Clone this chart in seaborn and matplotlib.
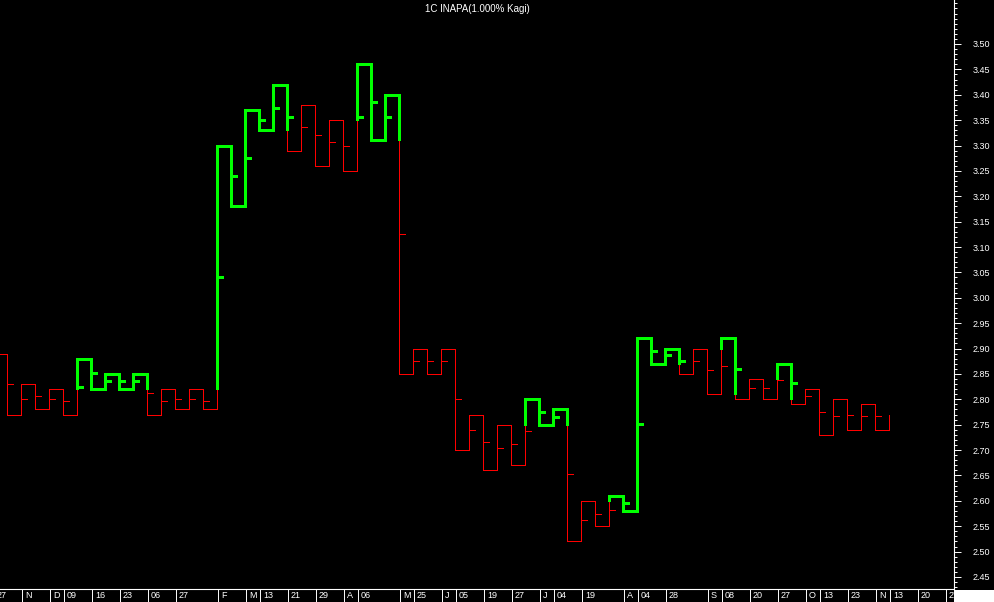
import numpy as np
import pandas as pd
import matplotlib
matplotlib.use('Agg')
import matplotlib.pyplot as plt
from matplotlib.ticker import MultipleLocator
from matplotlib.patches import Rectangle
import seaborn as sns

# Kagi chart of 1C INAPA, 1% reversal
title = '1C INAPA(1.000% Kagi)'

# level the line comes in at (column just off the left edge)
start_level = 2.89

# turning point of each column (end of its vertical line)
levels = [2.77, 2.83, 2.78, 2.82, 2.77, 2.88, 2.82, 2.85, 2.82, 2.85,
          2.77, 2.82, 2.78, 2.82, 2.78, 3.30, 3.18, 3.37, 3.33, 3.42,
          3.29, 3.38, 3.26, 3.35, 3.25, 3.46, 3.31, 3.40, 2.85, 2.90,
          2.85, 2.90, 2.70, 2.77, 2.66, 2.75, 2.67, 2.80, 2.75, 2.78,
          2.52, 2.60, 2.55, 2.61, 2.58, 2.92, 2.87, 2.90, 2.85, 2.90,
          2.81, 2.92, 2.80, 2.84, 2.80, 2.87, 2.79, 2.82, 2.73, 2.80,
          2.74, 2.79, 2.74, 2.77]

# small close marker on each column
closes = [2.830, 2.800, 2.806, 2.800, 2.796, 2.824, 2.852, 2.836, 2.836, 2.836,
          2.812, 2.796, 2.800, 2.800, 2.796, 3.040, 3.240, 3.275, 3.350, 3.374,
          3.356, 3.336, 3.320, 3.306, 3.300, 3.356, 3.386, 3.356, 3.125, 2.875,
          2.875, 2.875, 2.800, 2.740, 2.715, 2.705, 2.711, 2.737, 2.776, 2.766,
          2.652, 2.562, 2.575, 2.581, 2.596, 2.752, 2.896, 2.888, 2.876, 2.875,
          2.857, 2.865, 2.860, 2.822, 2.822, 2.838, 2.833, 2.806, 2.776, 2.767,
          2.770, 2.767, 2.767, np.nan]

# date labels on the column axis
date_pos = [-1, 1, 3, 4, 6, 8, 10, 12, 15, 17, 18, 20, 22, 24, 25, 28, 29, 31, 32,
            34, 36, 38, 39, 41, 44, 45, 47, 50, 51, 53, 55, 57, 58, 60, 62, 63, 65, 67]
date_labels = ['27', 'N', 'D', '09', '16', '23', '06', '27', 'F', 'M', '13', '21', '29',
               'A', '06', 'M', '25', 'J', '05', '19', '27', 'J', '04', '19', 'A', '04',
               '28', 'S', '08', '20', '27', 'O', '13', '23', 'N', '13', '20', '27']

YANG = '#00ff00'
YIN = '#ff0000'
TICK_LEN = 0.4


def build_kagi(start, levels, closes):
    # walk the line, split it where it crosses the last shoulder / waist
    segs = []
    ticks = []
    state = 'yin'
    last_high, last_low = start, None
    segs.append((-1, start, 0, start, state))
    prev = start
    for i, lvl in enumerate(levels):
        split = None
        if lvl > prev:
            if state == 'yin' and last_high is not None and lvl > last_high:
                split = last_high
                segs.append((i, prev, i, split, 'yin'))
                segs.append((i, split, i, lvl, 'yang'))
                state = 'yang'
            else:
                segs.append((i, prev, i, lvl, state))
            last_high = lvl
        else:
            if state == 'yang' and last_low is not None and lvl < last_low:
                split = last_low
                segs.append((i, prev, i, split, 'yang'))
                segs.append((i, split, i, lvl, 'yin'))
                state = 'yin'
            else:
                segs.append((i, prev, i, lvl, state))
            last_low = lvl

        c = closes[i]
        if not np.isnan(c):
            if split is None:
                tstate = state
            elif lvl > prev:
                tstate = 'yang' if c >= split else 'yin'
            else:
                tstate = 'yang' if c > split else 'yin'
            ticks.append((i, c, tstate))

        if i < len(levels) - 1:
            segs.append((i, lvl, i + 1, lvl, state))
        prev = lvl

    # merge consecutive segments of the same kind into runs
    rows = []
    unit = 0
    cur = None
    for x0, y0, x1, y1, k in segs:
        if k != cur:
            unit += 1
            cur = k
            rows.append((unit, x0, y0, k))
        rows.append((unit, x1, y1, k))
    for x, y, k in ticks:
        unit += 1
        rows.append((unit, x, y, k))
        rows.append((unit, x + TICK_LEN, y, k))
    return pd.DataFrame(rows, columns=['unit', 'x', 'y', 'kind'])


df = build_kagi(start_level, levels, closes)

sns.set_style('dark', {'axes.facecolor': 'black', 'figure.facecolor': 'black'})
plt.rcParams['font.family'] = ['Liberation Sans', 'DejaVu Sans']
plt.rcParams['lines.solid_joinstyle'] = 'miter'
plt.rcParams['lines.solid_capstyle'] = 'butt'

fig = plt.figure(figsize=(9.94, 6.02), dpi=100, facecolor='black')
ax = fig.add_axes([0, 13 / 602, 954 / 994, 589 / 602])
ax.set_facecolor('black')

# crisp pixel lines like the original chart
sns.lineplot(data=df, x='x', y='y', units='unit', estimator=None,
             hue='kind', size='kind',
             palette={'yang': YANG, 'yin': YIN},
             sizes={'yang': 2.0, 'yin': 0.6},
             sort=False, legend=False, antialiased=False, ax=ax)

ax.set_xlabel('')
ax.set_ylabel('')
ax.grid(False)

for side in ['top', 'left']:
    ax.spines[side].set_visible(False)
for side in ['right', 'bottom']:
    ax.spines[side].set_visible(True)
    ax.spines[side].set_color('white')
    ax.spines[side].set_linewidth(0.8)

# price axis on the right
ax.yaxis.tick_right()
major = np.round(np.arange(2.45, 3.501, 0.05), 2)
ax.set_yticks(major)
ax.set_yticklabels([f'{v:.2f}' for v in major])
ax.yaxis.set_minor_locator(MultipleLocator(0.01))
ax.tick_params(axis='y', which='major', colors='white', length=5, width=0.7,
               pad=8.5, labelsize=6.5, right=True, left=False)
ax.tick_params(axis='y', which='minor', colors='white', length=2.3, width=0.7,
               right=True, left=False)

# date band at the bottom
ax.set_xticks([p + 0.05 for p in date_pos])
ax.set_xticklabels([])
ax.tick_params(axis='x', which='major', colors='white', length=9.5, width=0.7,
               direction='out', bottom=True)
for p, lab in zip(date_pos, date_labels):
    ax.annotate(lab, xy=(p + 0.05, 0), xycoords=('data', 'axes fraction'),
                xytext=(3, -7), textcoords='offset pixels',
                ha='left', va='center', color='white', fontsize=6.5,
                annotation_clip=False)

# limits last, set_xticks would widen them otherwise
ax.set_xlim(-7.3 / 14, (954 - 7.3) / 14)
ax.set_ylim(3.50 - 545 / 507.6, 3.50 + 44 / 507.6)

ax.text(0.5, 1 - 9 / 589, title, transform=ax.transAxes, ha='center',
        va='center', color='white', fontsize=7)

fig.add_artist(Rectangle((954 / 994, 0), 40 / 994, 12 / 602,
                         transform=fig.transFigure, facecolor='white',
                         edgecolor='none', zorder=5))

fig.savefig('out.png', dpi=100, facecolor='black')
plt.close()
